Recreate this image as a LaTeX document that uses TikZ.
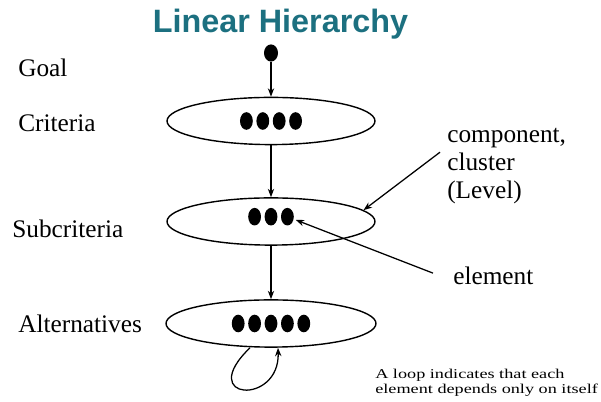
\documentclass[tikz,border=0pt]{standalone}
\usepackage{fontspec}
\setmainfont{Liberation Serif}
\newfontfamily\titlefont{Liberation Sans}
\newfontfamily\notefont[FakeStretch=1.35]{Liberation Serif}
\usetikzlibrary{shapes.geometric,arrows.meta,positioning,calc}
\definecolor{titleteal}{RGB}{28,112,128}

\begin{document}
\begin{tikzpicture}[
    lvl/.style={draw, ellipse, line width=1pt, minimum width=5.2cm, minimum height=1.18cm, inner sep=0pt},
    dot/.style={fill, ellipse, minimum width=0.32cm, minimum height=0.44cm, inner sep=0pt},
    lbl/.style={anchor=base west, inner sep=0pt, font=\fontsize{18}{20}\selectfont},
    arr/.style={-{Stealth[length=6pt,width=4.5pt]}, line width=0.9pt}
]
    \useasboundingbox (0,0) rectangle (15.025,10.05);
    \node[font=\titlefont\bfseries\fontsize{23}{26}\selectfont, text=titleteal, anchor=base] (title) at (7.0125,9.225) {Linear Hierarchy};

    \node[dot, minimum width=0.35cm, minimum height=0.43cm] (goal) at (6.775,8.725) {};
    \node[lvl] (crit) at (6.775,7.025) {};
    \node[lvl] (sub) at (6.775,4.5125) {};
    \node[lvl, minimum width=5.25cm] (alt) at (6.775,1.9625) {};

    \foreach \i in {1,...,4} \node[dot] (c\i) at ($(crit)+({(\i-2.5)*0.41},0)$) {};
    \foreach \i in {1,...,3} \node[dot] (s\i) at ($(sub)+({(\i-2)*0.41},0.12)$) {};
    \foreach \i in {1,...,5} \node[dot] (a\i) at ($(alt)+({(\i-3)*0.41},0)$) {};

    \node[lbl] (goalLbl) at (0.45,8.125) {Goal};
    \node[lbl] (critLbl) at (0.45,6.75) {Criteria};
    \node[lbl] (subLbl) at (0.3,4.1) {Subcriteria};
    \node[lbl] (altLbl) at (0.45,1.725) {Alternatives};

    \node[inner sep=0pt, anchor=north west, align=left, font=\fontsize{18}{20}\selectfont] (comp) at (11.175,6.85) {component,\\cluster\\(Level)};
    \node[lbl] (elem) at (11.325,2.925) {element};
    \node[inner sep=0pt, anchor=north west, align=left, font=\notefont\fontsize{9.6}{11}\selectfont] (note) at (9.375,0.8375) {A loop indicates that each\\element depends only on itself};

    \draw[arr] (goal) -- (crit);
    \draw[arr] (crit) -- (sub);
    \draw[arr] (sub) -- (alt);
    \draw[arr] ([shift={(-0.175,0.35)}]comp.west) -- (sub.7);
    \draw[arr, shorten >=1.5pt] ([shift={(-0.5,0.08)}]elem.west) -- (s3);
    \draw[arr] ([xshift=-0.525cm]alt.south) .. controls +(-1.375,-1.325) and +(0.05,-1.45) .. ([xshift=0.175cm]alt.south);
\end{tikzpicture}
\end{document}
